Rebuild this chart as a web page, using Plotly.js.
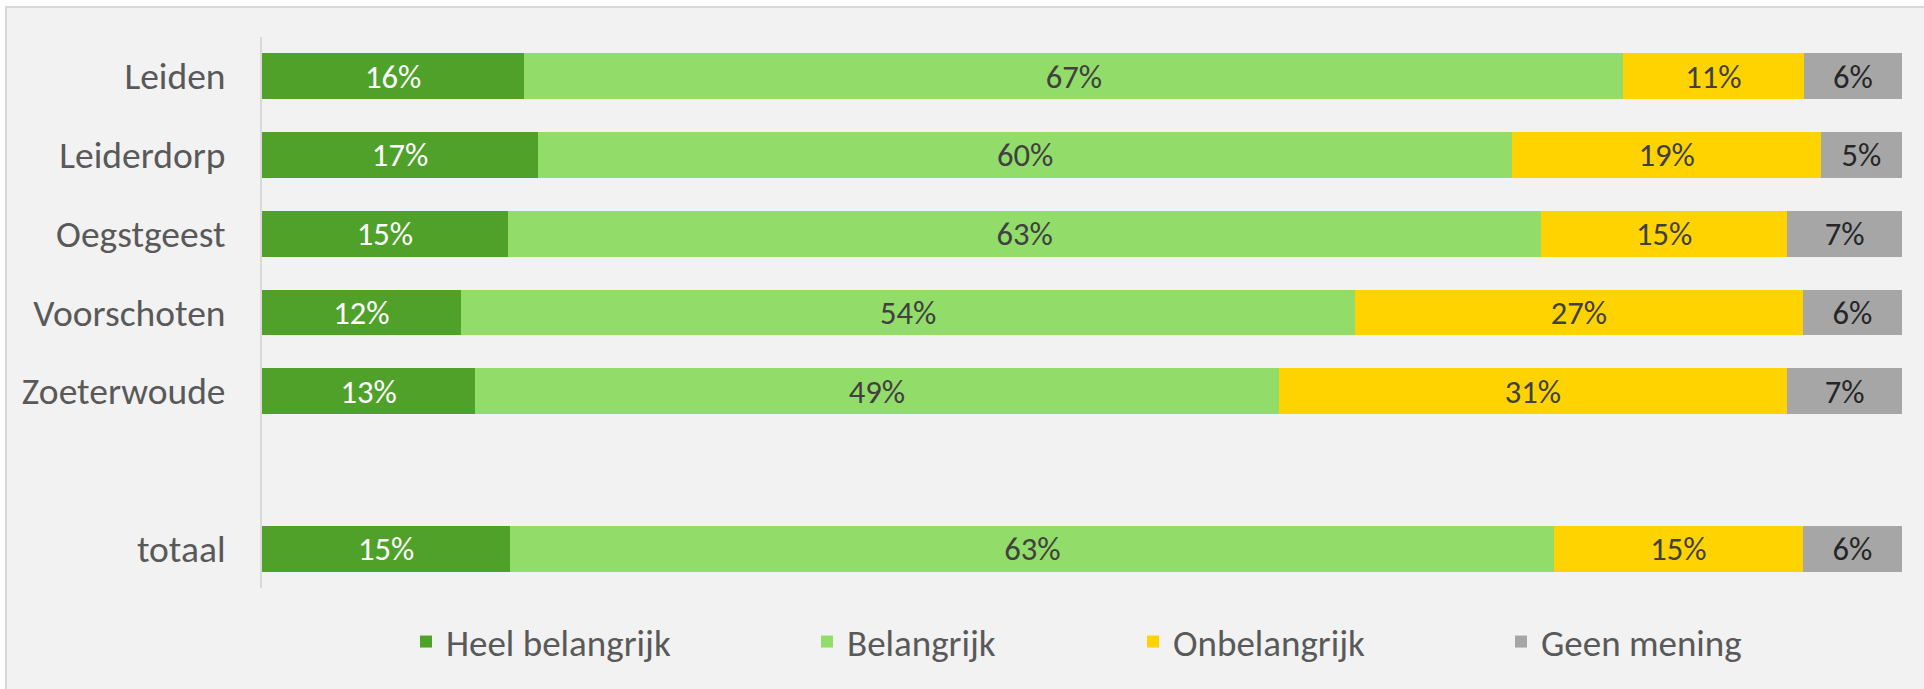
<!DOCTYPE html>
<html>
<head>
<meta charset="utf-8">
<script src="https://cdn.plot.ly/plotly-3.0.1.min.js"></script>
<style>
  html, body { margin: 0; padding: 0; background: #ffffff; }
  #chart { width: 1924px; height: 689px; }
</style>
</head>
<body>
<div id="chart"></div>
<script>
// ---- data ----
const categories = ['Leiden', 'Leiderdorp', 'Oegstgeest', 'Voorschoten', 'Zoeterwoude', ' ', 'totaal'];
const heelBelangrijk = [16, 17, 15, 12, 13, null, 15];
const belangrijk     = [67, 60, 63, 54, 49, null, 63];
const onbelangrijk   = [11, 19, 15, 27, 31, null, 15];
const geenMening     = [6, 5, 7, 6, 7, null, 6];
const seriesNames = ['Heel belangrijk', 'Belangrijk', 'Onbelangrijk', 'Geen mening'];

// ---- styling ----
const W = 1924, H = 689;
const plotL = 262, plotR = 1902, plotT = 37, plotB = 588;
const px2x = px => (px - plotL) / (plotR - plotL);
const py2y = py => (plotB - py) / (plotB - plotT);

const FONT = 'Carlito, Calibri, Lato, sans-serif';
const FS = 37.5;
const LFS = 37;
const colors = ['#50A12A', '#92DC6A', '#FFD300', '#A6A6A6'];
const labelColors = ['#FFFFFF', '#404040', '#404040', '#262626'];
const legendTextStart = [446, 847, 1173, 1541];
const legendIds = ['legend', 'legend2', 'legend3', 'legend4'];

const allSeries = [heelBelangrijk, belangrijk, onbelangrijk, geenMening];

const traces = allSeries.map((vals, i) => ({
  type: 'bar',
  orientation: 'h',
  name: seriesNames[i],
  y: categories,
  x: vals,
  text: vals.map(v => (v == null ? '' : v + '%')),
  textposition: 'inside',
  insidetextanchor: 'middle',
  textangle: 0,
  textfont: { family: FONT, size: FS, color: labelColors[i] },
  marker: { color: colors[i], line: { width: 0 } },
  legend: legendIds[i],
  hoverinfo: 'name+text+y'
}));

const layout = {
  width: W,
  height: H,
  barmode: 'stack',
  barnorm: 'percent',
  bargap: 0.416,
  paper_bgcolor: '#ffffff',
  plot_bgcolor: 'rgba(0,0,0,0)',
  margin: { l: plotL, r: W - plotR, t: plotT, b: H - plotB, pad: 0 },
  font: { family: FONT, size: FS, color: '#595959' },
  showlegend: true,
  xaxis: {
    range: [0, 100],
    showgrid: false,
    zeroline: false,
    showline: false,
    showticklabels: false,
    ticks: '',
    fixedrange: true
  },
  yaxis: {
    type: 'category',
    categoryorder: 'array',
    categoryarray: categories,
    autorange: 'reversed',
    showgrid: false,
    zeroline: false,
    showline: true,
    linecolor: '#D9D9D9',
    linewidth: 2,
    ticks: '',
    ticklabelstandoff: 27,
    tickfont: { family: FONT, size: FS, color: '#595959' },
    fixedrange: true
  },
  shapes: [{
    type: 'rect',
    xref: 'paper', yref: 'paper',
    x0: px2x(6), x1: px2x(1940),
    y0: py2y(700), y1: py2y(7),
    fillcolor: '#F2F2F2',
    line: { color: '#D9D9D9', width: 2 },
    layer: 'below'
  }]
};

legendIds.forEach((id, i) => {
  layout[id] = {
    orientation: 'h',
    x: px2x(legendTextStart[i] - 40),
    xanchor: 'left',
    y: py2y(642),
    yanchor: 'middle',
    bgcolor: 'rgba(0,0,0,0)',
    borderwidth: 0,
    font: { family: FONT, size: LFS, color: '#595959' },
    itemclick: false,
    itemdoubleclick: false
  };
});

Plotly.newPlot('chart', traces, layout, { displayModeBar: false, staticPlot: true });
</script>
</body>
</html>
